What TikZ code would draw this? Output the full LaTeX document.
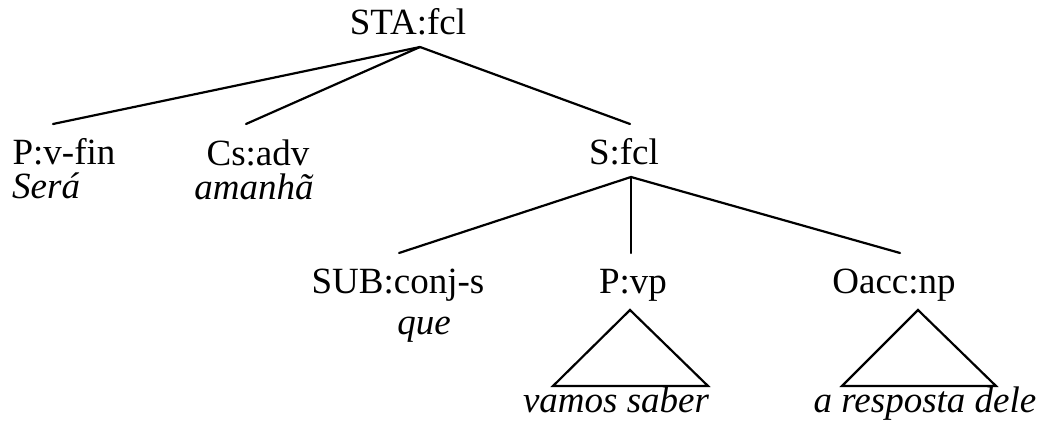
\documentclass[tikz,border=0pt]{standalone}
\usepackage{fontspec}
\setmainfont{Liberation Serif}
\begin{document}
\begin{tikzpicture}[x=1pt,y=-1pt,
  lab/.style={inner sep=0pt,anchor=base,font=\fontsize{37}{44}\selectfont},
  wrd/.style={inner sep=0pt,anchor=base,font=\fontsize{37}{44}\selectfont\itshape},
  edge/.style={line width=2.2pt,line cap=round,line join=miter},
  tri/.style={line width=2.2pt,line join=miter}]
\useasboundingbox (0,0) rectangle (1046,430);
% labels
\node[lab] (sta) at (408,35) {STA:fcl};
\node[lab] (pvfin) at (64,165) {P:v-fin};
\node[wrd,anchor=base west] (sera) at (12,199) {Será};
\node[lab] (csadv) at (258,166) {Cs:adv};
\node[wrd] (amanha) at (254,200) {amanhã};
\node[lab] (sfcl) at (624,165) {S:fcl};
\node[lab] (sub) at (398,294) {SUB:conj-s};
\node[wrd] (que) at (424,334) {que};
\node[lab] (pvp) at (633,293) {P:vp};
\node[lab] (oacc) at (894,293) {Oacc:np};
\node[wrd] (vamos) at (616,412) {vamos saber};
\node[wrd] (resp) at (925,412) {a resposta dele};
% connector points
\coordinate (staB) at (420,47);
\coordinate (pvfinT) at (53,124);
\coordinate (csadvT) at (246,124);
\coordinate (sfclT) at (630,124);
\coordinate (sfclB) at (631,177);
\coordinate (subT) at (399,253);
\coordinate (pvpT) at (631,253);
\coordinate (oaccT) at (900,253);
\coordinate (vpA) at (630,310);
\coordinate (vpL) at (553,386);
\coordinate (vpR) at (708,386);
\coordinate (npA) at (918,310);
\coordinate (npL) at (842,386);
\coordinate (npR) at (996,386);
% edges
\draw[edge] (staB) -- (pvfinT);
\draw[edge] (staB) -- (csadvT);
\draw[edge] (staB) -- (sfclT);
\draw[edge] (sfclB) -- (subT);
\draw[edge] (sfclB) -- (pvpT);
\draw[edge] (sfclB) -- (oaccT);
\draw[tri] (vpA) -- (vpL) -- (vpR) -- cycle;
\draw[tri] (npA) -- (npL) -- (npR) -- cycle;
\end{tikzpicture}
\end{document}
